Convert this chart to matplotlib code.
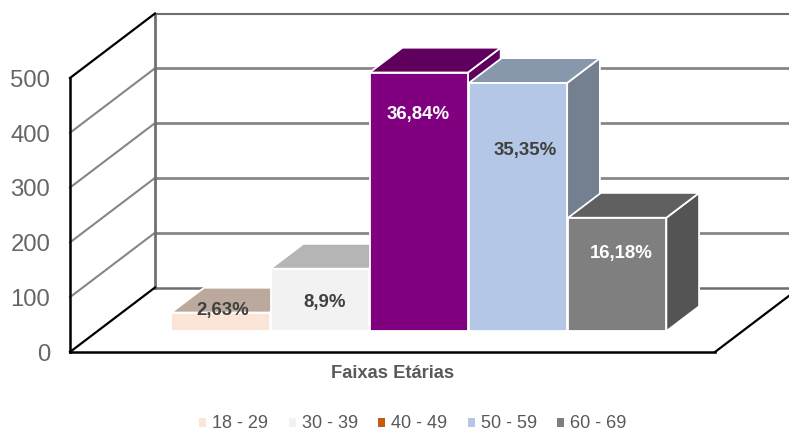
import matplotlib
matplotlib.use("Agg")
import matplotlib.pyplot as plt
from matplotlib.patches import Patch, Polygon

plt.rcParams["font.family"] = ["Liberation Sans", "DejaVu Sans"]

# data
faixas = ["18 - 29", "30 - 39", "40 - 49", "50 - 59", "60 - 69"]
valores = [34, 114, 472, 453, 207]
rotulos = ["2,63%", "8,9%", "36,84%", "35,35%", "16,18%"]
ticks = [0, 100, 200, 300, 400, 500]

# colours of the bars: front, top, side
cor_frente = ["#FBE5D6", "#F2F2F2", "#800080", "#B4C7E7", "#7F7F7F"]
cor_topo = ["#BBA99D", "#B5B5B5", "#5F005F", "#8798AD", "#606060"]
cor_lado = ["#A89A90", "#A0A0A0", "#5F005F", "#74808F", "#545454"]
cor_legenda = ["#FBE5D6", "#F2F2F2", "#C55A11", "#B4C7E7", "#7F7F7F"]

# label places (offset from the bar in x, value height) and colour
rotulo_dx = [0.02, 0.05, -0.01, 0.07, 0.04]
rotulo_y = [76, 91, 434, 368, 180]
rotulo_cor = ["#404040", "#404040", "white", "#404040", "white"]

# oblique depth of the box, in x units and value units
DX = 85 / 99.2
DY = 64.5 / 0.548
PAREDE = -1.24
FIM = 5.262
TOPO = 500


def proj(x, v, d):
    return x + d * DX, v + d * DY


def linha(p1, p2, cor, lw, z=1):
    ax.plot([p1[0], p2[0]], [p1[1], p2[1]], color=cor, lw=lw, zorder=z,
            solid_capstyle="projecting")


def barra(i, v):
    l, r = i - 0.495, i + 0.495
    d0, d1 = 0.323, 0.708
    frente = [proj(l, 0, d0), proj(r, 0, d0), proj(r, v, d0), proj(l, v, d0)]
    topo = [proj(l, v, d0), proj(r, v, d0), proj(r, v, d1), proj(l, v, d1)]
    lado = [proj(r, 0, d0), proj(r, 0, d1), proj(r, v, d1), proj(r, v, d0)]
    z = 3 + i
    ax.add_patch(Polygon(lado, fc=cor_lado[i], ec="white", lw=1.3, zorder=z))
    ax.add_patch(Polygon(topo, fc=cor_topo[i], ec="white", lw=1.3, zorder=z))
    ax.add_patch(Polygon(frente, fc=cor_frente[i], ec="white", lw=1.3, zorder=z))


fig = plt.figure(figsize=(7.89, 4.32), dpi=100)
ax = fig.add_axes([0, 0, 1, 1])
ax.set_xlim(-193 / 99.2, 596 / 99.2)
ax.set_ylim(-80 / 0.548, 352 / 0.548)
ax.axis("off")

# grid on the side wall and the back wall
for t in ticks[1:-1]:
    linha(proj(PAREDE, t, 0), proj(PAREDE, t, 1), "#868686", 1.5)
    linha(proj(PAREDE, t, 1), proj(FIM, t, 1), "#868686", 2)
linha(proj(PAREDE, TOPO, 1), proj(FIM, TOPO, 1), "#6E6E6E", 1.5)
linha(proj(PAREDE, 0, 1), proj(FIM, 0, 1), "#6E6E6E", 1.8)
linha(proj(PAREDE, 0, 1), proj(PAREDE, TOPO, 1), "#707070", 2)

# box outline
linha(proj(PAREDE, 0, 0), proj(FIM, 0, 0), "black", 1.8, 2)
linha(proj(FIM, 0, 0), proj(FIM, 0, 1), "black", 1.6, 2)
linha(proj(PAREDE, 0, 0), proj(PAREDE, 0, 1), "black", 1.6, 2)
linha(proj(PAREDE, 0, 0), proj(PAREDE, TOPO, 0), "black", 1.8, 2)
linha(proj(PAREDE, TOPO, 0), proj(PAREDE, TOPO, 1), "black", 1.6, 2)

for i, v in enumerate(valores):
    barra(i, v)

for t in ticks:
    ax.text(PAREDE - 0.2, t - 5, str(t), ha="right", va="center", fontsize=17.2,
            color="#666666")

for i, txt in enumerate(rotulos):
    ax.text(i + rotulo_dx[i] + 0.323 * DX, rotulo_y[i], txt, ha="center", va="center",
            fontsize=13.4, fontweight="bold", color=rotulo_cor[i], zorder=10)

ax.text((393 - 193) / 99.2, -22 / 0.548, "Faixas Etárias", ha="center", va="center",
        fontsize=13.2, fontweight="bold", color="#595959")

handles = [Patch(fc=c, ec="none") for c in cor_legenda]
fig.legend(handles, faixas, ncol=5, loc="center", bbox_to_anchor=(413 / 789, 1 - 424 / 432),
           frameon=False, fontsize=13, labelcolor="#595959", handlelength=0.39,
           handleheight=0.39, handletextpad=0.33, columnspacing=1.13)

fig.savefig("out.png", dpi=100)
